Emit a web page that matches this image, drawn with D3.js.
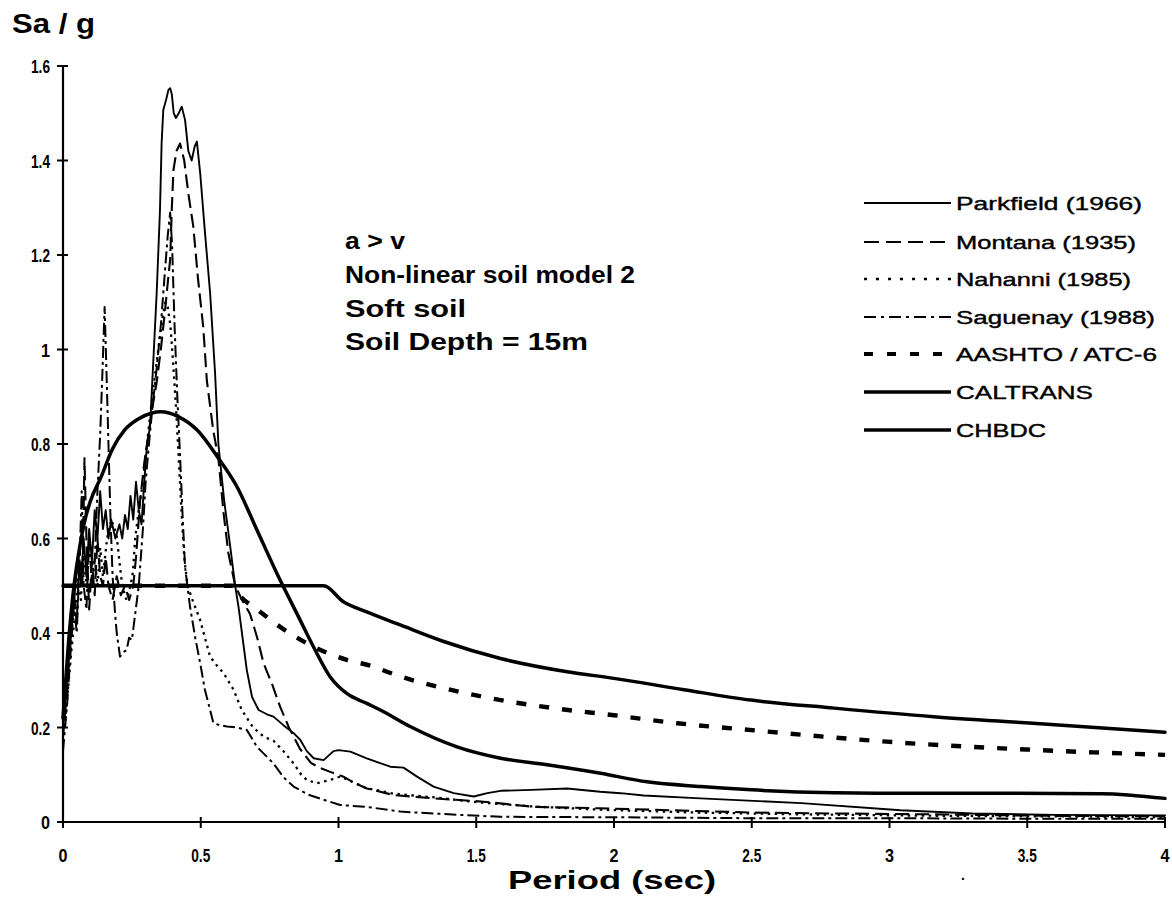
<!DOCTYPE html>
<html><head><meta charset="utf-8">
<script src="https://cdn.jsdelivr.net/npm/d3@7"></script>
<style>
html,body{margin:0;padding:0;background:#fff;}
svg{display:block;}
text{font-family:"Liberation Sans",Arial,Helvetica,sans-serif;fill:#000;}
.tick-label{font-size:19px;font-weight:bold;}
</style></head><body>
<svg id="chart" width="1172" height="910"></svg>
<script>
// ---- tick labels ----
const xTicks = [0, 0.5, 1, 1.5, 2, 2.5, 3, 3.5, 4];
const yTicks = [0, 0.2, 0.4, 0.6, 0.8, 1, 1.2, 1.4, 1.6];

// ---- legend labels ----
const seriesNames = ["Parkfield (1966)", "Montana (1935)", "Nahanni (1985)", "Saguenay (1988)",
                     "AASHTO / ATC-6", "CALTRANS", "CHBDC"];

// ---- annotation ----
const noteLines = ["a > v", "Non-linear soil model 2", "Soft soil", "Soil Depth = 15m"];

// ---- series values: [period (sec), Sa/g] ----
const parkfield = [[0,0.2],[0.015,0.3],[0.03,0.4],[0.045,0.5],[0.055,0.56],[0.065,0.5],[0.075,0.6],[0.085,0.52],[0.095,0.62],[0.105,0.55],[0.115,0.66],[0.125,0.6],[0.135,0.7],[0.145,0.62],[0.155,0.66],[0.165,0.6],[0.175,0.64],[0.19,0.6],[0.205,0.63],[0.215,0.6],[0.225,0.65],[0.235,0.62],[0.245,0.69],[0.255,0.64],[0.265,0.72],[0.275,0.66],[0.285,0.63],[0.295,0.72],[0.305,0.8],[0.316,0.836],[0.328,0.978],[0.34,1.119],[0.352,1.295],[0.358,1.437],[0.364,1.507],[0.375,1.53],[0.383,1.55],[0.389,1.553],[0.395,1.54],[0.402,1.5],[0.41,1.49],[0.42,1.5],[0.431,1.514],[0.443,1.486],[0.455,1.42],[0.467,1.4],[0.478,1.43],[0.486,1.44],[0.498,1.373],[0.515,1.25],[0.534,1.119],[0.552,0.95],[0.564,0.8],[0.585,0.68],[0.607,0.583],[0.625,0.5],[0.637,0.456],[0.667,0.322],[0.686,0.265],[0.71,0.237],[0.74,0.228],[0.764,0.223],[0.8,0.205],[0.837,0.188],[0.861,0.174],[0.885,0.15],[0.91,0.135],[0.946,0.131],[0.982,0.15],[1.0,0.152],[1.043,0.149],[1.1,0.135],[1.188,0.117],[1.236,0.115],[1.285,0.096],[1.345,0.075],[1.418,0.061],[1.491,0.054],[1.54,0.061],[1.588,0.066],[1.7,0.068],[1.83,0.071],[1.95,0.064],[2.024,0.061],[2.108,0.056],[2.314,0.05],[2.68,0.04],[3.04,0.025],[3.3,0.018],[3.6,0.015],[4.0,0.014]];

const montana = [[0,0.18],[0.015,0.28],[0.03,0.4],[0.04,0.48],[0.05,0.42],[0.06,0.58],[0.07,0.5],[0.078,0.77],[0.085,0.6],[0.095,0.45],[0.105,0.55],[0.115,0.48],[0.125,0.6],[0.135,0.52],[0.145,0.5],[0.155,0.56],[0.165,0.5],[0.18,0.47],[0.195,0.52],[0.21,0.48],[0.225,0.5],[0.24,0.47],[0.255,0.5],[0.265,0.56],[0.28,0.68],[0.295,0.76],[0.31,0.82],[0.325,0.88],[0.34,0.93],[0.355,1.0],[0.37,1.08],[0.38,1.14],[0.389,1.19],[0.395,1.3],[0.401,1.38],[0.412,1.42],[0.425,1.436],[0.44,1.4],[0.455,1.33],[0.473,1.26],[0.49,1.15],[0.509,1.048],[0.522,0.935],[0.545,0.83],[0.564,0.77],[0.583,0.653],[0.6,0.57],[0.625,0.5],[0.65,0.47],[0.679,0.44],[0.705,0.39],[0.728,0.336],[0.76,0.29],[0.788,0.244],[0.82,0.2],[0.86,0.155],[0.9,0.125],[0.934,0.114],[0.975,0.105],[1.018,0.096],[1.06,0.082],[1.103,0.071],[1.2,0.057],[1.345,0.05],[1.527,0.043],[1.709,0.032],[1.95,0.029],[2.2,0.025],[2.5,0.02],[2.8,0.018],[3.2,0.016],[3.6,0.013],[4.0,0.012]];

const nahanni = [[0,0.17],[0.015,0.26],[0.03,0.36],[0.045,0.45],[0.055,0.52],[0.065,0.47],[0.075,0.58],[0.085,0.5],[0.095,0.6],[0.105,0.52],[0.115,0.56],[0.125,0.5],[0.135,0.58],[0.145,0.52],[0.16,0.6],[0.175,0.64],[0.194,0.61],[0.205,0.55],[0.215,0.5],[0.23,0.47],[0.245,0.5],[0.254,0.53],[0.262,0.6],[0.275,0.66],[0.29,0.72],[0.305,0.8],[0.32,0.88],[0.335,0.95],[0.35,1.02],[0.362,1.07],[0.372,1.1],[0.38,1.09],[0.39,1.05],[0.4,0.97],[0.41,0.88],[0.42,0.77],[0.43,0.66],[0.44,0.56],[0.452,0.5],[0.47,0.47],[0.498,0.427],[0.52,0.38],[0.534,0.35],[0.56,0.33],[0.583,0.315],[0.619,0.28],[0.649,0.237],[0.69,0.2],[0.73,0.18],[0.764,0.172],[0.8,0.15],[0.837,0.124],[0.865,0.1],[0.885,0.089],[0.921,0.082],[0.97,0.089],[1.006,0.096],[1.05,0.085],[1.1,0.072],[1.2,0.06],[1.35,0.052],[1.5,0.042],[1.7,0.033],[1.95,0.026],[2.3,0.02],[2.7,0.016],[3.2,0.013],[3.6,0.012],[4.0,0.01]];

const saguenay = [[0,0.15],[0.015,0.25],[0.03,0.38],[0.04,0.46],[0.05,0.4],[0.06,0.55],[0.068,0.7],[0.075,0.5],[0.085,0.45],[0.095,0.6],[0.105,0.5],[0.115,0.55],[0.125,0.7],[0.135,0.82],[0.143,0.95],[0.151,1.09],[0.158,0.95],[0.165,0.8],[0.172,0.65],[0.18,0.52],[0.188,0.45],[0.195,0.4],[0.207,0.35],[0.22,0.36],[0.231,0.364],[0.24,0.39],[0.25,0.385],[0.262,0.44],[0.275,0.5],[0.29,0.62],[0.3,0.72],[0.312,0.8],[0.325,0.88],[0.34,0.96],[0.355,1.05],[0.368,1.15],[0.38,1.24],[0.389,1.29],[0.396,1.22],[0.405,1.05],[0.415,0.9],[0.425,0.773],[0.434,0.65],[0.443,0.54],[0.461,0.456],[0.48,0.39],[0.498,0.336],[0.515,0.28],[0.534,0.237],[0.546,0.209],[0.57,0.205],[0.595,0.202],[0.63,0.2],[0.667,0.195],[0.704,0.159],[0.764,0.124],[0.8,0.095],[0.837,0.075],[0.89,0.058],[0.946,0.047],[1.006,0.036],[1.103,0.032],[1.224,0.022],[1.44,0.015],[1.588,0.011],[2.0,0.01],[2.5,0.008],[3.0,0.008],[3.5,0.007],[4.0,0.007]];

const aashto = [[0,0.5],[0.615,0.5],[0.643,0.478],[0.7,0.452],[0.788,0.413],[0.909,0.371],[1.03,0.343],[1.127,0.329],[1.176,0.318],[1.491,0.269],[1.78,0.241],[2.0,0.226],[2.23,0.209],[2.47,0.196],[2.99,0.17],[3.55,0.152],[4.0,0.142]];

const caltrans = [[0,0.22],[0.02,0.38],[0.04,0.5],[0.06,0.58],[0.08,0.64],[0.1,0.68],[0.138,0.73],[0.18,0.79],[0.224,0.83],[0.27,0.852],[0.32,0.865],[0.356,0.868],[0.418,0.858],[0.486,0.83],[0.564,0.77],[0.631,0.71],[0.704,0.618],[0.788,0.512],[0.85,0.44],[0.909,0.371],[0.97,0.307],[1.03,0.272],[1.103,0.251],[1.152,0.237],[1.26,0.202],[1.43,0.159],[1.588,0.135],[1.757,0.121],[1.951,0.103],[2.12,0.085],[2.314,0.075],[2.5,0.068],[2.8,0.062],[3.0,0.061],[3.3,0.061],[3.77,0.06],[4.0,0.05]];

const chbdc = [[0,0.5],[0.946,0.5],[1.018,0.466],[1.1,0.445],[1.224,0.417],[1.382,0.382],[1.588,0.346],[1.83,0.318],[2.0,0.304],[2.254,0.28],[2.496,0.258],[2.8,0.241],[3.16,0.223],[3.52,0.209],[4.0,0.19]];

// ---- drawing ----
const svg = d3.select("#chart");
const x = d3.scaleLinear().domain([0, 4]).range([63, 1165]);
const y = d3.scaleLinear().domain([0, 1.6]).range([822, 66]);
const fmt = d3.format("");

const styles = [
  {data: parkfield, w: 1.9, dash: null,        ldash: null,       curve: d3.curveLinear},
  {data: montana,   w: 2.1, dash: "14,6",      ldash: "15,7",     curve: d3.curveLinear},
  {data: nahanni,   w: 2.3, dash: "2.5,4.5",   ldash: "3,9",      curve: d3.curveLinear},
  {data: saguenay,  w: 2.0, dash: "12,4,3,4",  ldash: "12,5,3,5", curve: d3.curveLinear},
  {data: aashto,    w: 4.4, dash: "10,13",     ldash: "9,14",     curve: d3.curveMonotoneX},
  {data: caltrans,  w: 3.5, dash: null,        ldash: null,       curve: d3.curveMonotoneX},
  {data: chbdc,     w: 3.5, dash: null,        ldash: null,       curve: d3.curveMonotoneX}
];

// axes (lines + crossing ticks + labels, placed through the scales)
const ax = svg.append("g").attr("stroke", "#000");
ax.append("line").attr("x1", x(0)).attr("x2", x(4)).attr("y1", y(0)).attr("y2", y(0)).attr("stroke-width", 2.2);
ax.append("line").attr("x1", x(0)).attr("x2", x(0)).attr("y1", y(0)).attr("y2", y(1.6)).attr("stroke-width", 2.2);
ax.selectAll("line.xt").data(xTicks).enter().append("line").attr("class", "xt")
  .attr("x1", d => x(d)).attr("x2", d => x(d)).attr("y1", y(0) - 5).attr("y2", y(0) + 6).attr("stroke-width", 2);
ax.selectAll("line.yt").data(yTicks).enter().append("line").attr("class", "yt")
  .attr("y1", d => y(d)).attr("y2", d => y(d)).attr("x1", x(0) - 6).attr("x2", x(0) + 5).attr("stroke-width", 2);

const labelsG = svg.append("g");
xTicks.forEach(d => {
  labelsG.append("text").attr("class", "tick-label")
    .attr("x", x(d)).attr("y", y(0) + 40)
    .attr("text-anchor", "middle")
    .attr("textLength", fmt(d).length > 1 ? 19 : 9).attr("lengthAdjust", "spacingAndGlyphs")
    .text(fmt(d));
});
yTicks.forEach(d => {
  labelsG.append("text").attr("class", "tick-label")
    .attr("x", x(0) - 13).attr("y", y(d) + 7)
    .attr("text-anchor", "end")
    .attr("textLength", fmt(d).length > 1 ? 19 : 9).attr("lengthAdjust", "spacingAndGlyphs")
    .text(fmt(d));
});

// series lines (code spectra below, records on top)
const order = [6, 5, 4, 3, 2, 1, 0];
order.forEach(i => {
  const s = styles[i];
  const line = d3.line().x(d => x(d[0])).y(d => y(d[1])).curve(s.curve);
  svg.append("path").datum(s.data)
    .attr("d", line).attr("fill", "none").attr("stroke", "#000")
    .attr("stroke-width", s.w).attr("stroke-linejoin", "round")
    .attr("stroke-linecap", s.dash ? "butt" : "round")
    .attr("stroke-dasharray", s.dash);
});

// legend
const legendY = [203, 242, 279, 317, 354, 392, 430];
const legendW = [186, 180, 175, 199, 201, 137, 90];
const lg = svg.append("g");
seriesNames.forEach((name, i) => {
  const s = styles[i];
  lg.append("line").attr("x1", 864).attr("x2", 951)
    .attr("y1", legendY[i]).attr("y2", legendY[i])
    .attr("stroke", "#000").attr("stroke-width", Math.min(s.w, 3.8))
    .attr("stroke-dasharray", s.ldash);
  lg.append("text").attr("x", 956).attr("y", legendY[i] + 7)
    .attr("font-size", 19).attr("stroke", "#000").attr("stroke-width", 0.4)
    .attr("textLength", legendW[i]).attr("lengthAdjust", "spacingAndGlyphs")
    .text(name);
});

// annotation block
const noteY = [249, 283, 317, 350];
const noteW = [60, 290, 121, 243];
noteLines.forEach((t, i) => {
  svg.append("text").attr("x", 345).attr("y", noteY[i])
    .attr("font-size", 23).attr("font-weight", "bold")
    .attr("textLength", noteW[i]).attr("lengthAdjust", "spacingAndGlyphs")
    .text(t);
});

// axis titles
svg.append("text").attr("x", 12).attr("y", 33)
  .attr("font-size", 27).attr("font-weight", "bold")
  .attr("textLength", 83).attr("lengthAdjust", "spacingAndGlyphs")
  .text("Sa / g");
svg.append("text").attr("x", 508).attr("y", 889)
  .attr("font-size", 26).attr("font-weight", "bold")
  .attr("textLength", 208).attr("lengthAdjust", "spacingAndGlyphs")
  .text("Period (sec)");
svg.append("text").attr("x", 961).attr("y", 880).attr("font-size", 14).attr("font-weight", "bold").text(".");
</script>
</body></html>
